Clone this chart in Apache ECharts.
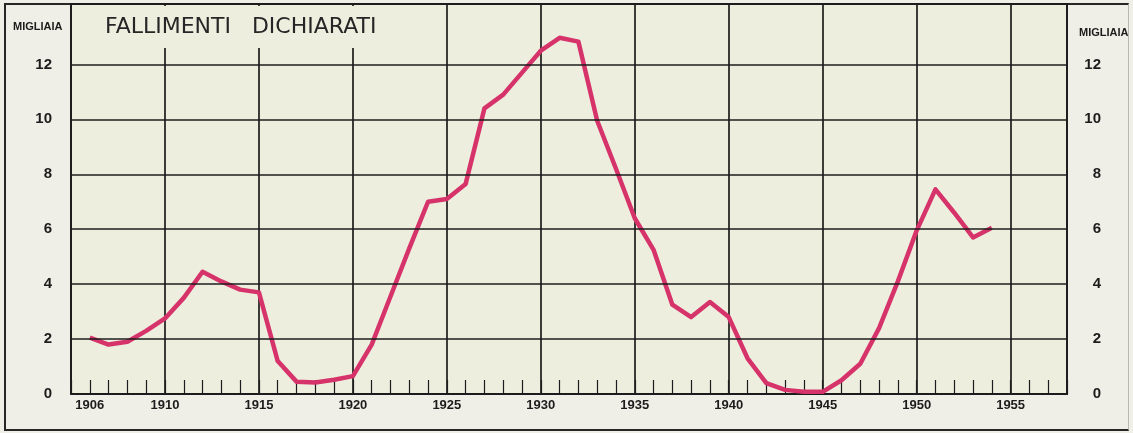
<!DOCTYPE html>
<html>
<head>
<meta charset="utf-8">
<title>Fallimenti dichiarati</title>
<script src="https://cdn.jsdelivr.net/npm/echarts@6/dist/echarts.min.js"></script>
<style>
  html, body { margin: 0; padding: 0; background: #f0efe7; }
  /* cornice esterna del foglio */
  #frame {
    position: absolute; left: 4px; top: 3px; width: 1125px; height: 428px;
    box-sizing: border-box; border: 2px solid #262626; border-right: 1px solid #b9b9b0;
  }
  #chart { position: absolute; left: 0; top: 0; width: 1133px; height: 433px; }
</style>
</head>
<body>
<div id="frame"></div>
<div id="chart"></div>
<script>
// ── Dati (migliaia di fallimenti dichiarati per anno) ─────────────
const years = [
  1906, 1907, 1908, 1909, 1910, 1911, 1912, 1913, 1914, 1915,
  1916, 1917, 1918, 1919, 1920, 1921, 1922, 1923, 1924, 1925,
  1926, 1927, 1928, 1929, 1930, 1931, 1932, 1933, 1934, 1935,
  1936, 1937, 1938, 1939, 1940, 1941, 1942, 1943, 1944, 1945,
  1946, 1947, 1948, 1949, 1950, 1951, 1952, 1953, 1954
];
const fallimenti = [
  2.05, 1.8, 1.9, 2.3, 2.75, 3.5, 4.45, 4.1, 3.8, 3.7,
  1.2, 0.45, 0.42, 0.52, 0.65, 1.8, 3.55, 5.3, 7.0, 7.1,
  7.65, 10.4, 10.9, 11.7, 12.5, 12.97, 12.83, 9.95, 8.2, 6.4,
  5.25, 3.25, 2.8, 3.35, 2.8, 1.3, 0.4, 0.15, 0.08, 0.08,
  0.5, 1.1, 2.4, 4.1, 5.95, 7.45, 6.6, 5.7, 6.05
];
// linee orizzontali della griglia e scala
const yGridValues = [2, 4, 6, 8, 10, 12];
const yLabelMax = 12;
const yMax = 14.2;
const xMin = 1905, xMax = 1958;

// ── Stili ──────────────────────────────────────────────
const ink = '#1c1c1c';
const paper = '#eeeedf';
const lineColor = '#d6336a';
const numFont = '"Liberation Sans", Arial, sans-serif';

const chart = echarts.init(document.getElementById('chart'));

chart.setOption({
  animation: false,
  backgroundColor: 'transparent',
  title: [
    {
      text: 'FALLIMENTI   DICHIARATI',
      left: 73, top: 6,
      padding: [9, 0, 9, 32],
      backgroundColor: paper,
      textStyle: {
        fontFamily: '"DejaVu Sans", sans-serif', fontWeight: 'normal',
        fontSize: 22, lineHeight: 24, color: '#262626', width: 341
      }
    },
    {
      text: 'MIGLIAIA', left: 13, top: 21, padding: 0,
      textStyle: { fontFamily: numFont, fontWeight: 'bold', fontSize: 11, color: ink }
    },
    {
      text: 'MIGLIAIA', left: 1079, top: 27, padding: 0,
      textStyle: { fontFamily: numFont, fontWeight: 'bold', fontSize: 11, color: ink }
    }
  ],
  grid: {
    left: 71, right: 66, top: 4, bottom: 39,
    outerBoundsMode: 'none',
    show: true, backgroundColor: paper,
    borderColor: ink, borderWidth: 1.8
  },
  xAxis: [
    {
      type: 'value', min: xMin, max: xMax, interval: 5, position: 'bottom',
      axisLine: { show: true, onZero: false, lineStyle: { color: ink, width: 2 } },
      axisTick: { show: false },
      axisLabel: {
        formatter: v => (v === xMin || v > 1955) ? '' : String(v),
        margin: 5, color: ink, fontFamily: numFont, fontWeight: 'bold', fontSize: 13
      },
      splitLine: { show: true, lineStyle: { color: ink, width: 1.7 } }
    },
    {
      // tacche annuali
      type: 'value', min: xMin, max: xMax, interval: 1, position: 'bottom',
      axisLine: { show: false },
      axisTick: { show: true, inside: true, length: 14, lineStyle: { color: ink, width: 1.2 } },
      axisLabel: {
        formatter: v => v === years[0] ? String(v) : '',
        margin: 5, color: ink, fontFamily: numFont, fontWeight: 'bold', fontSize: 13
      },
      splitLine: { show: false }
    }
  ],
  yAxis: [
    {
      type: 'value', min: 0, max: yMax, interval: 2, position: 'left',
      axisLine: { show: false }, axisTick: { show: false }, splitLine: { show: false },
      axisLabel: {
        formatter: v => v <= yLabelMax ? String(v) : '',
        margin: 19, color: ink, fontFamily: numFont, fontWeight: 'bold', fontSize: 15
      }
    },
    {
      type: 'value', min: 0, max: yMax, interval: 2, position: 'right',
      axisLine: { show: false }, axisTick: { show: false }, splitLine: { show: false },
      axisLabel: {
        formatter: v => v <= yLabelMax ? String(v) : '',
        align: 'right', margin: 34,
        color: ink, fontFamily: numFont, fontWeight: 'bold', fontSize: 15
      }
    }
  ],
  series: [
    {
      // griglia orizzontale sotto la curva
      name: 'griglia', type: 'line', data: [], z: 1, silent: true,
      markLine: {
        silent: true, symbol: 'none', animation: false,
        label: { show: false },
        lineStyle: { color: ink, type: 'solid', width: 1.7 },
        data: yGridValues.map(v => ({ yAxis: v }))
      }
    },
    {
      name: 'Fallimenti dichiarati', type: 'line', z: 3,
      data: years.map((y, i) => [y, fallimenti[i]]),
      symbol: 'none', smooth: false,
      lineStyle: { color: lineColor, width: 4.5, join: 'round' },
      itemStyle: { color: lineColor }
    }
  ]
});
</script>
</body>
</html>
